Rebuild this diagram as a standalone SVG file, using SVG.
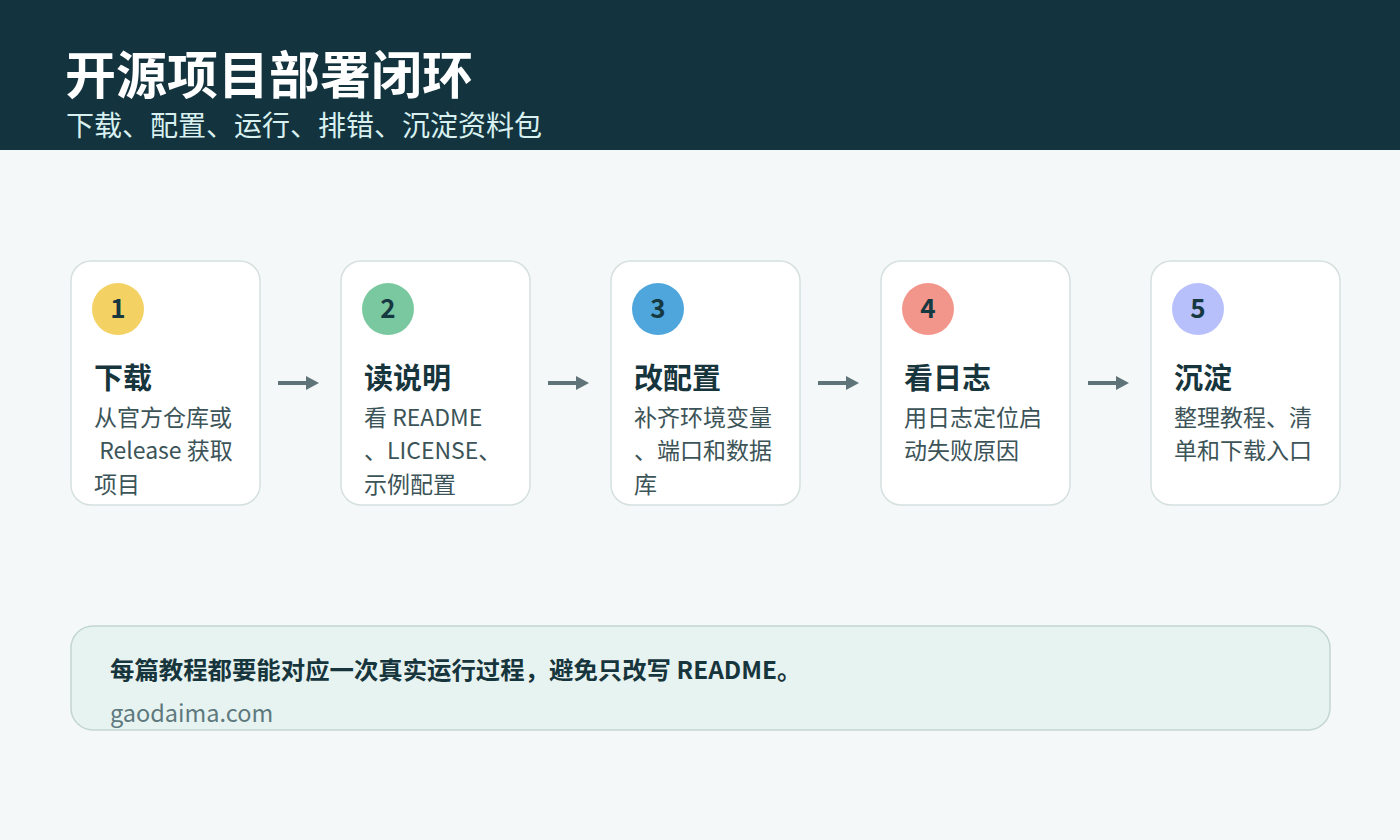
<svg xmlns="http://www.w3.org/2000/svg" width="1400" height="840" viewBox="0 0 1400 840">
<defs>
<style>
.card{fill:#ffffff;stroke:#d5e0df;stroke-width:1.5}
.num{font-family:"Noto Sans CJK SC","Noto Sans",sans-serif;font-weight:700;font-size:26px;fill:#163840;text-anchor:middle}
.ttl{font-family:"Noto Sans CJK SC",sans-serif;font-weight:700;font-size:29px;fill:#17353c}
.body{font-family:"Noto Sans CJK SC",sans-serif;font-size:23px;fill:#3c5458}
.arr{stroke:#5f7479;stroke-width:4;fill:none}
.arrh{fill:#5f7479}
</style>
</defs>
<rect width="1400" height="840" fill="#f5f8f8"/>
<g id="header">
<rect width="1400" height="150" fill="#13343e"/>
<text x="65" y="94" font-family="Noto Sans CJK SC,sans-serif" font-weight="700" font-size="51" fill="#ffffff">开源项目部署闭环</text>
<text x="66" y="136" font-family="Noto Sans CJK SC,sans-serif" font-size="28" fill="#d8f0f0">下载、配置、运行、排错、沉淀资料包</text>
</g>
<g id="connectors">
<line class="arr" x1="278" y1="383" x2="308" y2="383"/><polygon class="arrh" points="306,376 319,383 306,390"/>
<line class="arr" x1="548" y1="383" x2="578" y2="383"/><polygon class="arrh" points="576,376 589,383 576,390"/>
<line class="arr" x1="818" y1="383" x2="848" y2="383"/><polygon class="arrh" points="846,376 859,383 846,390"/>
<line class="arr" x1="1088" y1="383" x2="1118" y2="383"/><polygon class="arrh" points="1116,376 1129,383 1116,390"/>
</g>
<g id="node1">
<rect class="card" x="71" y="261" width="189" height="244" rx="20"/>
<circle cx="118" cy="309" r="26" fill="#f3d162"/>
<text class="num" x="118" y="318">1</text>
<text class="ttl" x="94" y="389">下载</text>
<text class="body" x="94" y="426">从官方仓库或</text>
<text class="body" x="94" y="459">&#160;Release 获取</text>
<text class="body" x="94" y="493">项目</text>
</g>
<g id="node2">
<rect class="card" x="341" y="261" width="189" height="244" rx="20"/>
<circle cx="388" cy="309" r="26" fill="#7ac8a0"/>
<text class="num" x="388" y="318">2</text>
<text class="ttl" x="364" y="389">读说明</text>
<text class="body" x="364" y="426">看 README</text>
<text class="body" x="364" y="459">、LICENSE、</text>
<text class="body" x="364" y="493">示例配置</text>
</g>
<g id="node3">
<rect class="card" x="611" y="261" width="189" height="244" rx="20"/>
<circle cx="658" cy="309" r="26" fill="#4ea6dc"/>
<text class="num" x="658" y="318">3</text>
<text class="ttl" x="634" y="389">改配置</text>
<text class="body" x="634" y="426">补齐环境变量</text>
<text class="body" x="634" y="459">、端口和数据</text>
<text class="body" x="634" y="493">库</text>
</g>
<g id="node4">
<rect class="card" x="881" y="261" width="189" height="244" rx="20"/>
<circle cx="928" cy="309" r="26" fill="#f2968b"/>
<text class="num" x="928" y="318">4</text>
<text class="ttl" x="904" y="389">看日志</text>
<text class="body" x="904" y="426">用日志定位启</text>
<text class="body" x="904" y="459">动失败原因</text>
</g>
<g id="node5">
<rect class="card" x="1151" y="261" width="189" height="244" rx="20"/>
<circle cx="1198" cy="309" r="26" fill="#b8c0fb"/>
<text class="num" x="1198" y="318">5</text>
<text class="ttl" x="1174" y="389">沉淀</text>
<text class="body" x="1174" y="426">整理教程、清</text>
<text class="body" x="1174" y="459">单和下载入口</text>
</g>
<g id="note">
<rect x="71" y="626" width="1259" height="104" rx="22" fill="#e7f3f0" stroke="#c3d6d1" stroke-width="1.5"/>
<text x="110" y="679" font-family="Noto Sans CJK SC,sans-serif" font-weight="700" font-size="24.4" fill="#17353c">每篇教程都要能对应一次真实运行过程，避免只改写 README。</text>
<text x="110" y="722" font-family="Noto Sans CJK SC,sans-serif" font-size="23.5" fill="#5e797e">gaodaima.com</text>
</g>
</svg>
